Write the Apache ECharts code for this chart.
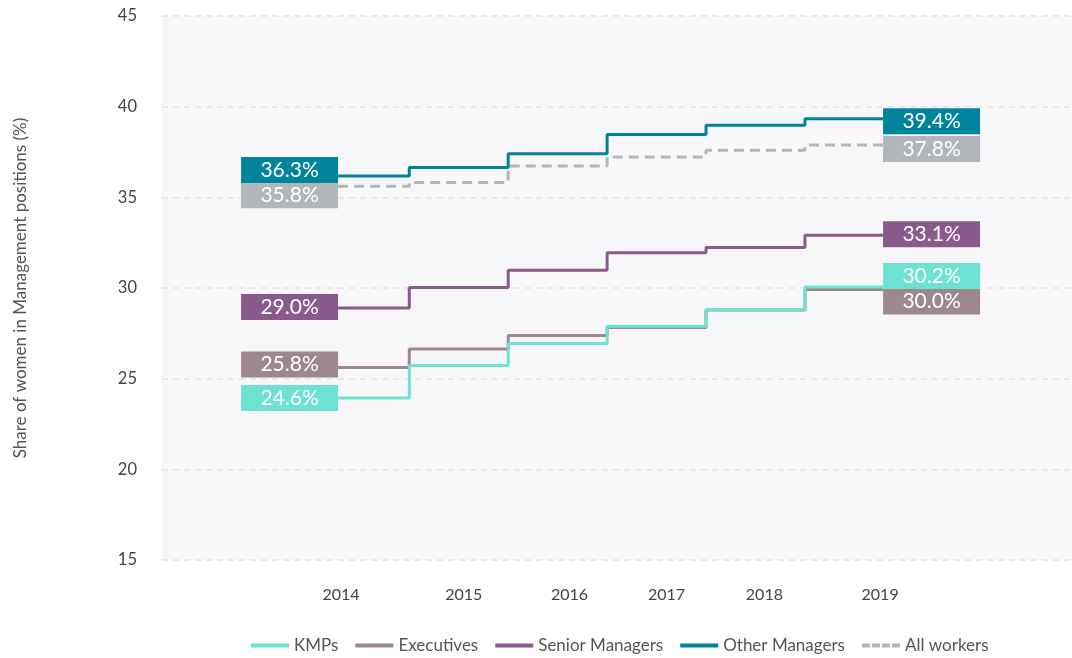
<!DOCTYPE html>
<html>
<head>
<meta charset="utf-8">
<script src="https://cdn.jsdelivr.net/npm/echarts@6/dist/echarts.min.js"></script>
<style>
  html, body { margin: 0; padding: 0; background: #fff; }
  #chart { width: 1072px; height: 658px; }
</style>
</head>
<body>
<div id="chart"></div>
<script>
// years and share of women (%) per group
const years = [2014, 2015, 2016, 2017, 2018, 2019];
const kmps = [23.94, 25.73, 26.94, 27.89, 28.81, 30.06];
const executives = [25.62, 26.64, 27.38, 27.82, 28.78, 29.92];
const seniorManagers = [28.90, 30.03, 30.98, 31.94, 32.23, 32.91];
const otherManagers = [36.18, 36.64, 37.41, 38.46, 38.97, 39.34];
const allWorkers = [35.61, 35.82, 36.73, 37.23, 37.60, 37.88];

// published figures shown in the end boxes (first / last year)
const firstYearShare = [24.6, 25.8, 29.0, 36.3, 35.8];
const lastYearShare = [30.2, 30.0, 33.1, 39.4, 37.8];

// year label positions on the x axis
const yearLabelPos = [2013.81, 2015.05, 2016.12, 2017.10, 2018.09, 2019.26];

const names = ['KMPs', 'Executives', 'Senior Managers', 'Other Managers', 'All workers'];
const colors = ['#6de2d2', '#9e878f', '#8a5a8c', '#00839b', '#b4b7ba'];
const boxColors = ['#6de2d3', '#9e888f', '#8a5a8c', '#00849c', '#b3b6b9'];
const values = [kmps, executives, seniorManagers, otherManagers, allWorkers];
// vertical nudge of the boxes so they don't overlap
const leftShift = [0, -3, -1, -6, 9];
const rightShift = [-11, 12, -1, 2.5, 4];

const lineStart = 2013.78;
const lineEnd = 2019.29;
const BOX_W = 97;
const FONT = 'Lato, "Source Sans Pro", "Open Sans", sans-serif';

const solidIcon = 'path://M0,0H38V4H0Z';
const dashIcon = 'path://M0,0H8V4H0Z M10,0H18V4H10Z M20,0H28V4H20Z M30,0H38V4H30Z';

function boxLabel(i, text, pos, dy) {
  return {
    show: true,
    position: pos,
    distance: 0,
    // box is centred on the anchor, push it out so its edge meets the line end
    offset: [pos === 'left' ? -BOX_W / 2 : BOX_W / 2, dy],
    formatter: text,
    width: BOX_W,
    height: 26,
    lineHeight: 26,
    align: 'center',
    verticalAlign: 'middle',
    backgroundColor: boxColors[i],
    color: '#ffffff',
    fontSize: 21,
    fontFamily: FONT
  };
}

function stepData(i) {
  const vals = values[i];
  const pts = [{
    value: [lineStart, vals[0]],
    symbol: 'circle',
    symbolSize: 0,
    label: boxLabel(i, firstYearShare[i].toFixed(1) + '%', 'left', leftShift[i])
  }];
  for (let k = 1; k < years.length; k++) {
    pts.push({ value: [years[k] - 0.5, vals[k]] });
  }
  pts.push({
    value: [lineEnd, vals[vals.length - 1]],
    symbol: 'circle',
    symbolSize: 0,
    label: boxLabel(i, lastYearShare[i].toFixed(1) + '%', 'right', rightShift[i])
  });
  return pts;
}

const zOrder = [6, 5, 4, 3, 2];
const series = names.map(function (name, i) {
  return {
    name: name,
    type: 'line',
    step: 'end',
    symbol: 'none',
    showSymbol: true,
    showAllSymbol: true,
    z: zOrder[i],
    animation: false,
    lineStyle: {
      color: colors[i],
      width: 3,
      type: i === 4 ? [10, 6] : 'solid'
    },
    itemStyle: { color: colors[i] },
    label: { show: false },
    emphasis: { disabled: true },
    data: stepData(i)
  };
});

const chart = echarts.init(document.getElementById('chart'));
chart.setOption({
  backgroundColor: '#ffffff',
  textStyle: { fontFamily: FONT },
  grid: {
    left: 162,
    right: 0,
    top: 16,
    bottom: 98,
    show: true,
    backgroundColor: '#f7f7f9',
    borderWidth: 0
  },
  legend: {
    data: names.map(function (n, i) {
      return { name: n, icon: i === 4 ? dashIcon : solidIcon, itemStyle: { color: colors[i] } };
    }),
    left: 246,
    top: 632,
    itemWidth: 38,
    itemHeight: 4,
    itemGap: 17,
    textStyle: { fontSize: 17, color: '#555', fontFamily: FONT }
  },
  xAxis: {
    type: 'value',
    min: 2012,
    max: 2021.2,
    axisLine: { show: false },
    axisTick: { show: false },
    splitLine: { show: false },
    axisLabel: {
      customValues: yearLabelPos,
      formatter: function (v) { return String(Math.round(v)); },
      fontSize: 16,
      color: '#444',
      margin: 27,
      fontFamily: FONT
    }
  },
  yAxis: {
    type: 'value',
    min: 15,
    max: 45,
    interval: 5,
    name: 'Share of women in Management positions (%)',
    nameLocation: 'middle',
    nameGap: 133,
    nameTextStyle: { fontSize: 17, color: '#555', fontFamily: FONT },
    axisLine: { show: false },
    axisTick: { show: false },
    axisLabel: { fontSize: 16.5, color: '#444', margin: 25, fontFamily: FONT },
    splitLine: { lineStyle: { color: '#e3e3e7', type: [6, 5], width: 1.5 } }
  },
  series: series
});
</script>
</body>
</html>
